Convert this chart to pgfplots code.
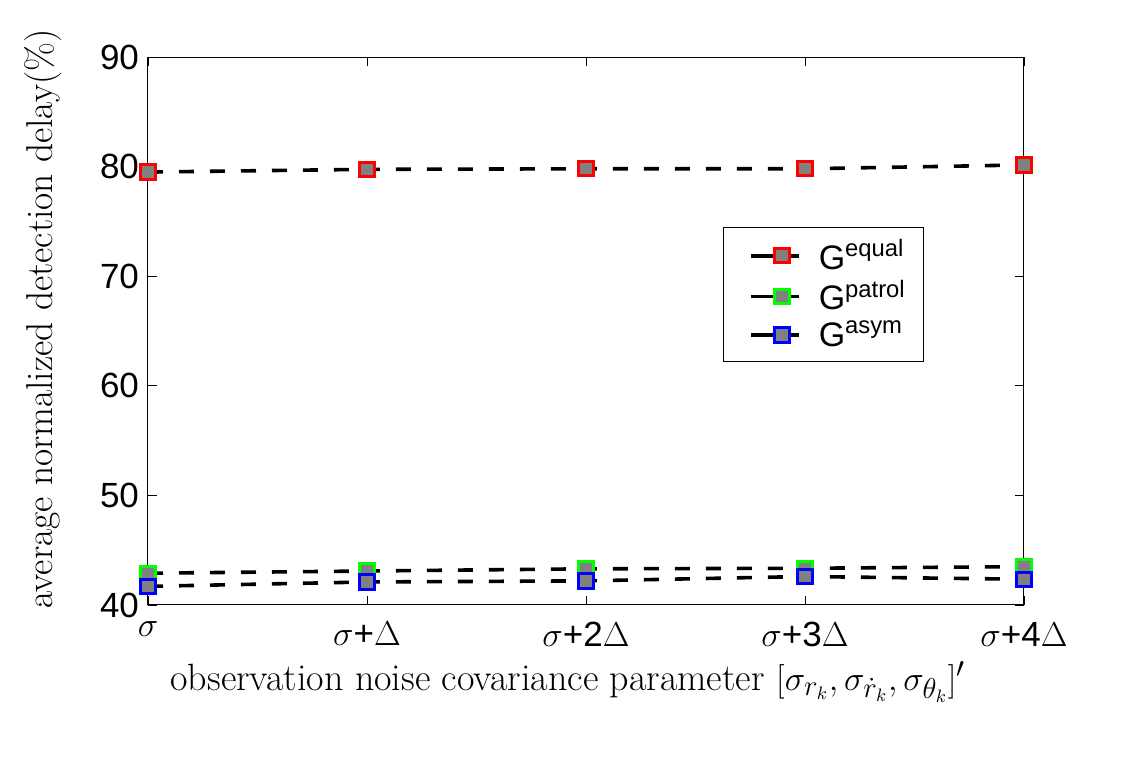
\documentclass[border=0pt]{standalone}
\usepackage{pgfplots}
\pgfplotsset{compat=1.18}
\usepackage{fontspec}
\newfontfamily\hel{Liberation Sans}
\begin{document}
\begin{tikzpicture}
\useasboundingbox (0,0) rectangle (566pt,380pt);
\begin{axis}[
  at={(74pt,77.5pt)}, anchor=south west,
  scale only axis, width=438pt, height=274pt,
  xmin=0, xmax=4, ymin=40, ymax=90,
  xtick={0,1,2,3,4},
  xticklabels={$\sigma$, $\sigma${+}$\Delta$, $\sigma${+}2$\Delta$, $\sigma${+}3$\Delta$, $\sigma${+}4$\Delta$},
  ytick={40,50,60,70,80,90},
  tick align=inside, major tick length=4.5pt,
  tick style={black, line width=0.4pt},
  axis line style={black, line width=0.5pt},
  every tick label/.append style={font=\fontsize{17.5}{20}\selectfont\hel},
  /pgf/number format/assume math mode=true,
  xticklabel style={yshift=-5pt},
  yticklabel style={xshift=-1pt},
  xlabel={observation noise covariance parameter $[\sigma_{r_k},\sigma_{\dot r_k},\sigma_{\theta_k}]'$},
  ylabel={average normalized detection delay(\%)},
  xlabel style={font=\fontsize{19}{21}\selectfont, yshift=-0.5pt, xshift=-9pt},
  ylabel style={font=\fontsize{18.7}{21}\selectfont, yshift=12pt, xshift=6pt},
  legend style={at={(0.656,0.69)}, anchor=north west, draw=black, line width=0.5pt,
    font=\fontsize{17}{19}\selectfont\hel, row sep=0pt, inner xsep=4pt, inner ysep=4pt,
    cells={anchor=west}, nodes={inner xsep=5pt, inner ysep=2pt}},
  legend image code/.code={
    \path (0pt,0pt);
    \draw[mark repeat=2,mark phase=2,#1,solid] plot coordinates {(9pt,0pt) (24.5pt,0pt) (33pt,0pt)};},
  legend cell align=left,
  clip=false,
]
\addplot[black, line width=1.8pt, dash pattern=on 7.5pt off 8pt,
  mark=square*, mark size=3.6pt, mark options={solid, fill=gray, draw=red, line width=1.5pt}]
  coordinates {(0,79.5) (1,79.75) (2,79.8) (3,79.8) (4,80.15)};
\addlegendentry{\hspace{4pt}G\textsuperscript{equal}}
\addplot[black, line width=1.8pt, dash pattern=on 7.5pt off 8pt,
  mark=square*, mark size=3.6pt, mark options={solid, fill=gray, draw=green, line width=1.5pt}]
  coordinates {(0,42.9) (1,43.1) (2,43.3) (3,43.35) (4,43.5)};
\addlegendentry{\hspace{4pt}G\textsuperscript{patrol}}
\addplot[black, line width=1.8pt, dash pattern=on 7.5pt off 8pt,
  mark=square*, mark size=3.6pt, mark options={solid, fill=gray, draw=blue, line width=1.5pt}]
  coordinates {(0,41.7) (1,42.1) (2,42.2) (3,42.6) (4,42.35)};
\addlegendentry{\hspace{4pt}G\textsuperscript{asym}}
\end{axis}
\end{tikzpicture}
\end{document}
